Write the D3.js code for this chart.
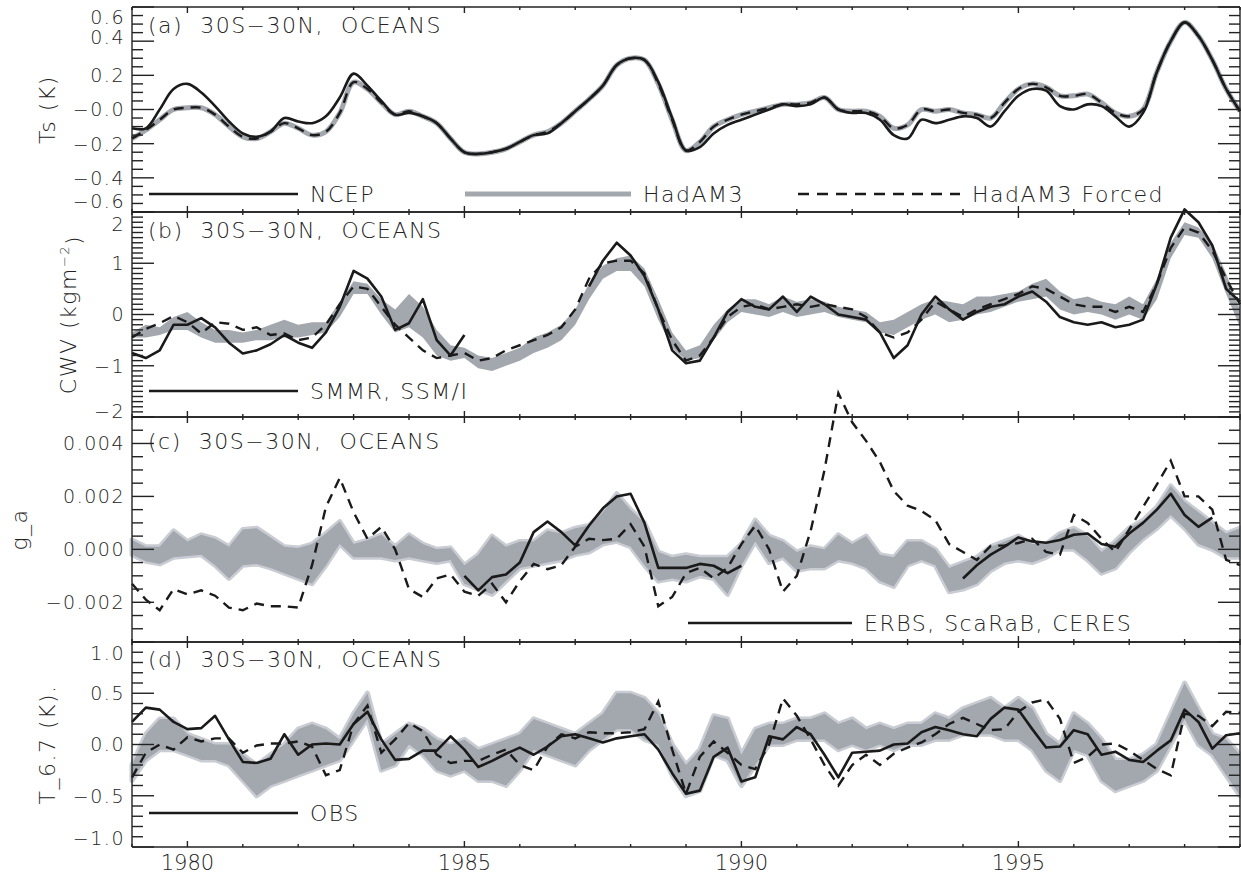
<!DOCTYPE html>
<meta charset="utf-8">
<html>
  <head>
    <style>
      body { margin: 0; background: #fff; }
      text { font-family: "DejaVu Sans", sans-serif; font-weight: 200; fill: #222; }
      text.tick { font-size: 19px; letter-spacing: 1.5px; }
      text.big { font-size: 22px; letter-spacing: 1.5px; }
      text.year { font-size: 21px; }
      line.ax { stroke: #222; stroke-width: 1.4px; }
    </style>
    <script src="https://d3js.org/d3.v7.min.js"></script>
  </head>
  <body>
    <div id="chart"></div>
    <script type="text/javascript">
      // sampling grid: quarterly, 1979.00 .. 1999.00
      var years = d3.range(81).map(function (i) { return 1979 + i / 4; });

      // ---- (a) surface temperature, K
      var tsNcep = [
        -0.11, -0.11, 0.00, 0.12,   0.15, 0.10, 0.02, -0.07,   -0.14, -0.16, -0.13, -0.05,
        -0.07, -0.08, -0.04, 0.07,   0.21, 0.14, 0.05, -0.03,   -0.02, -0.04, -0.08, -0.17,
        -0.25, -0.26, -0.25, -0.23,   -0.19, -0.15, -0.14, -0.08,   -0.01, 0.06, 0.14, 0.26,
        0.30, 0.29, 0.16, -0.05,   -0.24, -0.22, -0.14, -0.09,   -0.06, -0.03, 0.00, 0.03,
        0.02, 0.03, 0.07, 0.00,   -0.02, -0.02, -0.06, -0.15,   -0.17, -0.06, -0.08, -0.06,
        -0.04, -0.05, -0.10, -0.01,   0.08, 0.12, 0.11, 0.02,   0.00, 0.03, 0.02, -0.04,
        -0.10, -0.02, 0.22, 0.40,   0.51, 0.43, 0.29, 0.12,   -0.01];
      var tsHadam3 = [
        -0.17, -0.12, -0.06, 0.00,   0.01, 0.01, -0.03, -0.10,   -0.16, -0.17, -0.13, -0.08,
        -0.11, -0.15, -0.13, -0.02,   0.16, 0.12, 0.04, -0.03,   -0.01, -0.04, -0.08, -0.17,
        -0.25, -0.26, -0.25, -0.23,   -0.19, -0.15, -0.13, -0.08,   -0.01, 0.06, 0.14, 0.26,
        0.30, 0.29, 0.15, -0.06,   -0.24, -0.19, -0.10, -0.06,   -0.03, -0.01, 0.01, 0.03,
        0.03, 0.04, 0.07, 0.00,   -0.01, -0.01, -0.04, -0.11,   -0.09, 0.00, -0.01, 0.00,
        -0.02, -0.03, -0.05, 0.04,   0.12, 0.15, 0.13, 0.08,   0.08, 0.09, 0.04, -0.02,
        -0.04, 0.00, 0.22, 0.40,   0.51, 0.43, 0.29, 0.12,   -0.01];
      var tsForced = [
        -0.17, -0.12, -0.06, 0.00,   0.01, 0.01, -0.03, -0.10,   -0.16, -0.17, -0.13, -0.08,
        -0.11, -0.15, -0.13, -0.02,   0.16, 0.12, 0.04, -0.03,   -0.01, -0.04, -0.08, -0.17,
        -0.25, -0.26, -0.25, -0.23,   -0.19, -0.15, -0.13, -0.08,   -0.01, 0.06, 0.14, 0.26,
        0.30, 0.29, 0.15, -0.06,   -0.24, -0.19, -0.10, -0.06,   -0.03, -0.01, 0.01, 0.03,
        0.03, 0.04, 0.07, 0.00,   -0.01, -0.01, -0.04, -0.11,   -0.09, 0.00, -0.01, 0.00,
        -0.02, -0.03, -0.05, 0.04,   0.12, 0.15, 0.13, 0.08,   0.08, 0.09, 0.04, -0.02,
        -0.04, 0.00, 0.22, 0.40,   0.51, 0.43, 0.29, 0.12,   -0.01];

      // ---- (b) column water vapour, kg m-2
      var cwvObs = [
        -0.75, -0.85, -0.70, -0.20,   -0.20, -0.07, -0.25, -0.55,   -0.76, -0.70, -0.58, -0.40,
        -0.55, -0.65, -0.35, 0.15,   0.85, 0.70, 0.35, -0.30,   -0.17, 0.30, -0.50, -0.80,
        -0.40, null, null, null,   null, null, null, null,   null, 0.55, 1.05, 1.40,
        1.15, 0.75, 0.10, -0.70,   -0.95, -0.90, -0.45, 0.05,   0.30, 0.15, 0.10, 0.35,
        0.05, 0.35, 0.20, 0.00,   -0.05, -0.10, -0.35, -0.85,   -0.60, 0.00, 0.35, 0.10,
        -0.10, 0.05, 0.15, 0.20,   0.35, 0.45, 0.25, -0.05,   -0.15, -0.20, -0.15, -0.25,
        -0.20, -0.10, 0.60, 1.50,   2.05, 1.80, 1.35, 0.50,   0.25];
      var cwvForced = [
        -0.45, -0.28, -0.17, -0.03,   -0.15, -0.37, -0.15, -0.18,   -0.30, -0.25, -0.40, -0.37,
        -0.50, -0.45, -0.20, 0.20,   0.55, 0.50, 0.15, -0.20,   -0.45, -0.70, -0.85, -0.80,
        -0.75, -0.90, -0.85, -0.70,   -0.60, -0.50, -0.40, -0.25,   0.10, 0.70, 1.00, 1.05,
        1.05, 0.80, 0.10, -0.50,   -0.90, -0.80, -0.45, -0.05,   0.15, 0.20, 0.10, 0.15,
        0.20, 0.15, 0.20, 0.15,   0.10, -0.05, -0.35, -0.45,   -0.35, -0.10, 0.25, 0.10,
        -0.05, 0.10, 0.20, 0.30,   0.40, 0.55, 0.50, 0.35,   0.20, 0.15, 0.15, 0.05,
        0.15, 0.05, 0.60, 1.30,   1.70, 1.60, 1.25, 0.70,   0.20];
      var cwvBandLo = [
        -0.45, -0.45, -0.40, -0.30,   -0.30, -0.45, -0.55, -0.55,   -0.55, -0.50, -0.50, -0.45,
        -0.45, -0.40, -0.35, -0.05,   0.40, 0.40, 0.00, -0.35,   -0.25, -0.45, -0.80, -0.90,
        -0.85, -1.05, -1.10, -1.00,   -0.90, -0.75, -0.65, -0.50,   -0.20, 0.30, 0.70, 0.85,
        0.85, 0.55, -0.10, -0.65,   -0.90, -0.85, -0.50, -0.15,   0.05, 0.00, -0.05, 0.05,
        -0.05, 0.00, 0.05, -0.05,   -0.10, -0.15, -0.35, -0.40,   -0.25, -0.10, 0.00, -0.15,
        -0.10, 0.00, 0.05, 0.15,   0.25, 0.30, 0.35, 0.10,   0.00, 0.05, 0.00, -0.10,
        0.00, -0.10, 0.30, 1.10,   1.55, 1.50, 1.10, 0.40,   -0.25];
      var cwvBandHi = [
        -0.35, -0.20, -0.25, -0.05,   0.05, -0.15, -0.30, -0.30,   -0.35, -0.30, -0.20, -0.10,
        -0.20, -0.15, -0.15, 0.25,   0.65, 0.60, 0.30, 0.10,   0.40, 0.15, -0.30, -0.60,
        -0.65, -0.80, -0.85, -0.75,   -0.65, -0.45, -0.35, -0.20,   0.10, 0.60, 0.95, 1.10,
        1.15, 0.90, 0.30, -0.35,   -0.70, -0.60, -0.20, 0.10,   0.30, 0.30, 0.20, 0.35,
        0.25, 0.30, 0.25, 0.15,   0.10, 0.05, -0.15, -0.10,   0.05, 0.20, 0.30, 0.25,
        0.20, 0.35, 0.35, 0.40,   0.45, 0.60, 0.70, 0.45,   0.30, 0.35, 0.25, 0.20,
        0.35, 0.20, 0.70, 1.40,   1.80, 1.70, 1.40, 0.80,   0.10];

      // ---- (c) g_a, in units of 0.001
      var gaObs = [
        null, null, null, null,   null, null, null, null,   null, null, null, null,
        null, null, null, null,   null, null, null, null,   null, null, null, null,
        -1.00, -1.55, -1.05, -0.95,   -0.50, 0.65, 1.05, 0.65,   0.15, 0.90, 1.55, 2.00,
        2.10, 1.00, -0.70, -0.70,   -0.70, -0.55, -0.62, -0.90,   -0.62, null, null, null,
        null, null, null, null,   null, null, null, null,   null, null, null, null,
        -1.10, -0.60, -0.20, 0.10,   0.45, 0.30, 0.25, 0.35,   0.55, 0.60, 0.20, 0.10,
        0.60, 1.00, 1.50, 2.10,   1.30, 0.85, 1.20, null,   null];
      var gaForced = [
        -1.30, -1.90, -2.30, -1.50,   -1.70, -1.55, -1.75, -2.20,   -2.30, -2.05, -2.15, -2.15,
        -2.20, -0.60, 1.60, 2.70,   1.40, 0.40, 0.85, 0.00,   -1.50, -1.80, -1.10, -0.95,
        -1.60, -1.75, -1.30, -2.00,   -1.20, -0.55, -0.75, -0.60,   0.10, 0.40, 0.35, 0.40,
        0.95, 0.10, -2.15, -1.80,   -0.90, -0.70, -1.10, -0.70,   0.20, 0.90, 0.00, -1.60,
        -1.00, 0.70, 3.00, 5.90,   4.80, 4.10, 3.30, 2.20,   1.65, 1.45, 1.10, 0.20,
        -0.10, -0.40, 0.13, 0.15,   0.24, 0.40, -0.10, -0.20,   1.30, 1.00, 0.40, -0.10,
        0.75, 1.60, 2.45, 3.35,   2.00, 2.00, 1.50, -0.40,   -0.60];
      var gaBandLo = [
        -0.20, -0.45, -0.55, -0.30,   -0.25, -0.20, -0.60, -1.10,   -0.60, -0.55, -0.70, -0.90,
        -1.10, -1.30, -0.60, 0.20,   -0.30, -0.30, -0.30, -0.40,   -0.30, -0.40, -0.50, -0.40,
        -1.30, -1.50, -1.70, -1.20,   -0.70, -0.60, -0.50, -0.40,   -0.20, -0.10, 0.20, 0.30,
        0.10, -0.60, -1.20, -1.10,   -1.20, -1.00, -1.10, -1.70,   -0.60, 0.30, -0.50, -0.30,
        -0.80, -0.70, -0.70, -0.40,   -0.50, -0.70, -1.20, -1.40,   -0.60, -0.40, -0.60, -1.60,
        -1.50, -1.30, -0.80, -0.50,   -0.40, -0.50, -0.30, 0.00,   0.00, -0.40, -0.90, -0.70,
        -0.10, 0.40, 0.80, 1.30,   0.80, 0.20, 0.00, -0.30,   -0.30];
      var gaBandHi = [
        0.35, 0.10, 0.10, 0.70,   0.30, 0.55, 0.40, 0.10,   0.75, 0.80, 0.45, 0.10,
        0.05, 0.20, 0.60, 1.05,   0.20, 0.35, 0.55, 0.10,   0.55, 0.20, 0.00, 0.05,
        -0.60, -0.20, 0.50, 0.10,   0.30, 0.30, 0.70, 0.60,   0.80, 0.90, 1.40, 2.10,
        1.50, 1.00, -0.10, -0.30,   -0.20, -0.30, -0.30, -0.30,   0.20, 1.10, 0.50, 0.30,
        -0.10, 0.10, 0.00, 0.55,   0.20, 0.50, -0.20, -0.30,   0.30, 0.30, 0.00, -0.70,
        -0.50, -0.30, 0.10, 0.30,   0.50, 0.20, 0.20, 0.60,   0.80, 0.50, -0.10, 0.30,
        0.80, 1.10, 1.60, 2.40,   1.80, 1.40, 1.00, 0.60,   0.80];

      // ---- (d) T_6.7, K
      var t67Obs = [
        0.22, 0.36, 0.34, 0.22,   0.15, 0.16, 0.28, 0.05,   -0.17, -0.18, -0.14, 0.10,
        -0.10, 0.00, 0.01, 0.00,   0.20, 0.32, 0.05, -0.15,   -0.14, -0.06, -0.06, 0.08,
        -0.05, -0.22, -0.16, -0.09,   -0.03, -0.10, -0.02, 0.08,   0.10, 0.06, 0.02, 0.06,
        0.08, 0.10, -0.05, -0.28,   -0.48, -0.45, -0.12, -0.03,   -0.36, -0.32, 0.08, 0.05,
        0.17, 0.10, -0.10, -0.32,   -0.08, -0.07, -0.06, 0.00,   0.01, 0.12, 0.17, 0.14,
        0.10, 0.08, 0.25, 0.36,   0.34, 0.15, -0.03, -0.02,   0.14, 0.10, -0.10, -0.07,
        -0.15, -0.17, -0.06, 0.04,   0.34, 0.22, -0.04, 0.09,   0.11];
      var t67Forced = [
        -0.32, -0.08, 0.00, -0.05,   0.07, 0.03, 0.06, 0.06,   -0.08, -0.01, 0.01, 0.01,
        0.03, -0.02, -0.30, -0.25,   0.20, 0.38, -0.08, 0.05,   0.21, 0.13, -0.10, -0.18,
        -0.16, -0.16, -0.10, -0.05,   -0.20, -0.25, -0.02, 0.10,   0.06, 0.12, 0.11, 0.11,
        0.12, 0.15, 0.42, -0.05,   -0.48, -0.12, 0.03, -0.08,   -0.20, -0.24, 0.00, 0.45,
        0.28, 0.05, -0.20, -0.40,   -0.20, -0.10, -0.20, -0.09,   -0.03, 0.02, 0.10, 0.20,
        0.26, 0.20, 0.14, 0.15,   0.32, 0.41, 0.44, 0.25,   -0.18, -0.12, 0.00, 0.01,
        -0.06, -0.15, -0.24, -0.30,   0.30, 0.28, 0.18, 0.32,   0.31];
      var t67BandLo = [
        -0.35, -0.15, -0.05, -0.05,   -0.10, -0.15, -0.15, -0.20,   -0.35, -0.50, -0.40, -0.35,
        -0.30, -0.25, -0.20, -0.15,   0.05, 0.25, -0.25, -0.20,   0.00, -0.10, -0.25, -0.30,
        -0.25, -0.35, -0.35, -0.40,   -0.25, -0.05, -0.10, -0.15,   -0.20, -0.05, 0.05, 0.15,
        0.15, 0.05, 0.00, -0.30,   -0.50, -0.45, -0.10, -0.15,   -0.40, -0.20, 0.00, 0.00,
        0.05, 0.05, 0.05, -0.05,   0.00, -0.05, 0.00, -0.05,   0.00, 0.00, 0.05, 0.05,
        0.10, 0.10, 0.10, 0.05,   0.05, -0.05, -0.25, -0.35,   -0.05, -0.10, -0.35, -0.45,
        -0.40, -0.35, -0.25, 0.00,   0.25, 0.00, -0.10, -0.30,   -0.50];
      var t67BandHi = [
        -0.20, 0.10, 0.25, 0.25,   0.10, 0.05, 0.00, 0.00,   -0.10, -0.20, -0.10, 0.00,
        0.15, 0.20, 0.15, 0.05,   0.30, 0.50, 0.00, 0.10,   0.20, 0.15, 0.05, 0.00,
        0.05, -0.05, 0.00, 0.05,   0.10, 0.25, 0.20, 0.15,   0.10, 0.20, 0.30, 0.50,
        0.50, 0.45, 0.30, 0.00,   -0.20, -0.05, 0.28, 0.25,   -0.10, 0.15, 0.20, 0.20,
        0.25, 0.25, 0.30, 0.20,   0.25, 0.15, 0.20, 0.15,   0.20, 0.20, 0.30, 0.25,
        0.35, 0.40, 0.45, 0.35,   0.45, 0.35, 0.10, 0.00,   0.30, 0.20, 0.05, -0.15,
        -0.15, -0.10, 0.00, 0.30,   0.60, 0.35, 0.10, 0.05,   -0.10];

      // tick values and their printed labels
      var tsTicks = [-0.6, -0.4, -0.2, 0, 0.2, 0.4, 0.6];
      var tsTickText = ["\u22120.6", "\u22120.4", "\u22120.2", "\u22120.0", "0.2", "0.4", "0.6"];
      var cwvTicks = [-2, -1, 0, 1, 2];
      var cwvTickText = ["\u22122", "\u22121", "0", "1", "2"];
      var gaTicks = [-2, 0, 2, 4];
      var gaTickText = ["\u22120.002", "0.000", "0.002", "0.004"];
      var t67Ticks = [-1, -0.5, 0, 0.5, 1];
      var t67TickText = ["\u22121.0", "\u22120.5", "0.0", "0.5", "1.0"];
      var yearTicks = [1980, 1985, 1990, 1995];

      var black = "#1a1a1a", greyDark = "#a3a7ae", greyLight = "#c9ccd3";
      var L = 132, R = 1240;

      var x = d3.scaleLinear().domain([1979, 1999]).range([L, R]);

      var panels = [
        { name: "(a)  30S\u221230N,  OCEANS", top: 7, bottom: 212, domain: [-0.6, 0.6],
          ticks: tsTicks, tickText: tsTickText, minor: 0.05, shift: [-11, 0, 0, 0, 0, -4, 10],
          title: ["Ts (K)"], nameDy: 26, smooth: true,
          grey: tsHadam3, dashed: tsForced, solid: tsNcep,
          legend: { dy: -18, items: [
            { x1: 149, x2: 298, kind: "solid", text: "NCEP" },
            { x1: 465, x2: 631, kind: "grey", text: "HadAM3" },
            { x1: 798, x2: 960, kind: "dashed", text: "HadAM3 Forced" } ] } },
        { name: "(b)  30S\u221230N,  OCEANS", top: 212, bottom: 417, domain: [-2, 2],
          ticks: cwvTicks, tickText: cwvTickText, minor: 0.1, shift: [-6, 0, 0, 0, 12],
          title: ["CWV (kgm", "\u22122", ")"], nameDy: 26,
          band: [cwvBandLo, cwvBandHi], edge: false, dashed: cwvForced, solid: cwvObs,
          legend: { dy: -26, items: [ { x1: 149, x2: 298, kind: "solid", text: "SMMR, SSM/I" } ] } },
        { name: "(c)  30S\u221230N,  OCEANS", top: 417, bottom: 642, domain: [-3.5, 5],
          ticks: gaTicks, tickText: gaTickText, minor: 0.5, shift: [0, 0, 0, 0],
          title: ["g_a"], nameDy: 32,
          band: [gaBandLo, gaBandHi], edge: true, dashed: gaForced, solid: gaObs,
          legend: { dy: -19, items: [ { x1: 688, x2: 852, kind: "solid", text: "ERBS, ScaRaB, CERES" } ] } },
        { name: "(d)  30S\u221230N,  OCEANS", top: 642, bottom: 847, domain: [-1, 1],
          ticks: t67Ticks, tickText: t67TickText, minor: 0.1, shift: [-9, 0, 0, 0, 11],
          title: ["T_6.7 (K)."], nameDy: 25,
          band: [t67BandLo, t67BandHi], edge: true, dashed: t67Forced, solid: t67Obs,
          legend: { dy: -34, items: [ { x1: 149, x2: 298, kind: "solid", text: "OBS" } ] } }
      ];

      var svg = d3.select("#chart").append("svg")
          .attr("width", 1241)
          .attr("height", 878);

      panels.forEach(function (p, pi) {
        var y = d3.scaleLinear().domain(p.domain).range([p.bottom, p.top]);
        var g = svg.append("g");
        var curve = p.smooth ? d3.curveCatmullRom : d3.curveLinear;

        var line = d3.line()
            .defined(function (d) { return d != null; })
            .x(function (d, i) { return x(years[i]); })
            .y(function (d) { return y(d); })
            .curve(curve);

        if (p.band) {
          var area = d3.area()
              .x(function (d, i) { return x(years[i]); })
              .y0(function (d) { return y(d[0]); })
              .y1(function (d) { return y(d[1]); });
          var pairs = d3.zip(p.band[0], p.band[1]);
          if (p.edge) {
            g.append("path").attr("d", area(pairs))
              .attr("fill", greyLight).attr("stroke", greyLight)
              .attr("stroke-width", 5).attr("stroke-linejoin", "round");
          }
          g.append("path").attr("d", area(pairs)).attr("fill", greyDark);
        }
        if (p.grey) {
          g.append("path").attr("d", line(p.grey)).attr("fill", "none")
            .attr("stroke", greyDark).attr("stroke-width", 5);
        }
        g.append("path").attr("d", line(p.dashed)).attr("fill", "none")
          .attr("stroke", black).attr("stroke-width", 2.4).attr("stroke-dasharray", "10,7");
        g.append("path").attr("d", line(p.solid)).attr("fill", "none")
          .attr("stroke", black).attr("stroke-width", 2.6).attr("stroke-linejoin", "round");

        // frame
        [[L, p.top, R, p.top], [L, p.bottom, R, p.bottom], [L, p.top, L, p.bottom], [R, p.top, R, p.bottom]]
          .forEach(function (s) {
            g.append("line").attr("class", "ax")
              .attr("x1", s[0]).attr("y1", s[1]).attr("x2", s[2]).attr("y2", s[3]);
          });

        // y ticks, left and right
        var eps = 1e-6;
        d3.range(p.domain[0], p.domain[1] + eps, p.minor).forEach(function (v) {
          var isMajor = p.ticks.some(function (t) { return Math.abs(t - v) < eps; });
          var len = isMajor ? 22 : 11;
          var yy = y(v);
          g.append("line").attr("class", "ax").attr("x1", L).attr("x2", L + len).attr("y1", yy).attr("y2", yy);
          g.append("line").attr("class", "ax").attr("x1", R).attr("x2", R - len).attr("y1", yy).attr("y2", yy);
        });

        // x ticks, top and bottom of every panel
        d3.range(1979, 1999.5, 1).forEach(function (yr) {
          var len = yr % 5 === 0 ? 6 : 3;
          g.append("line").attr("class", "ax").attr("x1", x(yr)).attr("x2", x(yr))
            .attr("y1", p.top).attr("y2", p.top + len);
          g.append("line").attr("class", "ax").attr("x1", x(yr)).attr("x2", x(yr))
            .attr("y1", p.bottom).attr("y2", p.bottom - len);
        });

        // y tick labels
        var labels = g.selectAll(".tick")
            .data(p.ticks)
            .enter().append("text")
              .attr("class", "tick")
              .attr("x", 125)
              .attr("y", function (d, i) { return y(d) + p.shift[i]; })
              .attr("dy", "0.36em")
              .style("text-anchor", "end")
              .text(function (d, i) { return p.tickText[i]; });

        var minX = d3.min(labels.nodes(), function (n) { return n.getBBox().x; });
        var cy = (p.top + p.bottom) / 2;
        var title = g.append("text").attr("class", "big")
            .attr("transform", "translate(" + (minX - 26) + "," + cy + ") rotate(-90)")
            .attr("dy", "0.35em")
            .style("text-anchor", "middle");
        title.append("tspan").text(p.title[0]);
        if (p.title.length > 1) {
          title.append("tspan").attr("dy", "-0.55em").style("font-size", "13px").text(p.title[1]);
          title.append("tspan").attr("dy", "0.55em").text(p.title[2]);
        }

        // panel name
        g.append("text").attr("class", "big")
          .attr("x", 148).attr("y", p.top + p.nameDy)
          .style("white-space", "pre")
          .text(p.name);

        // legend
        var ly = p.bottom + p.legend.dy;
        p.legend.items.forEach(function (it) {
          var ln = g.append("line").attr("x1", it.x1).attr("x2", it.x2).attr("y1", ly).attr("y2", ly);
          if (it.kind === "grey") ln.attr("stroke", greyDark).attr("stroke-width", 5);
          else ln.attr("stroke", black).attr("stroke-width", 2.6);
          if (it.kind === "dashed") ln.attr("stroke-dasharray", "11,8");
          g.append("text").attr("class", "big")
            .attr("x", it.x2 + 12).attr("y", ly).attr("dy", "0.36em")
            .text(it.text);
        });

        // year labels under the last panel
        if (pi === panels.length - 1) {
          g.selectAll(".year")
            .data(yearTicks)
            .enter().append("text")
              .attr("class", "year")
              .attr("x", function (d) { return x(d); })
              .attr("y", p.bottom + 15)
              .attr("dy", "0.36em")
              .style("text-anchor", "middle")
              .text(function (d) { return d; });
        }
      });
    </script>
  </body>
</html>
